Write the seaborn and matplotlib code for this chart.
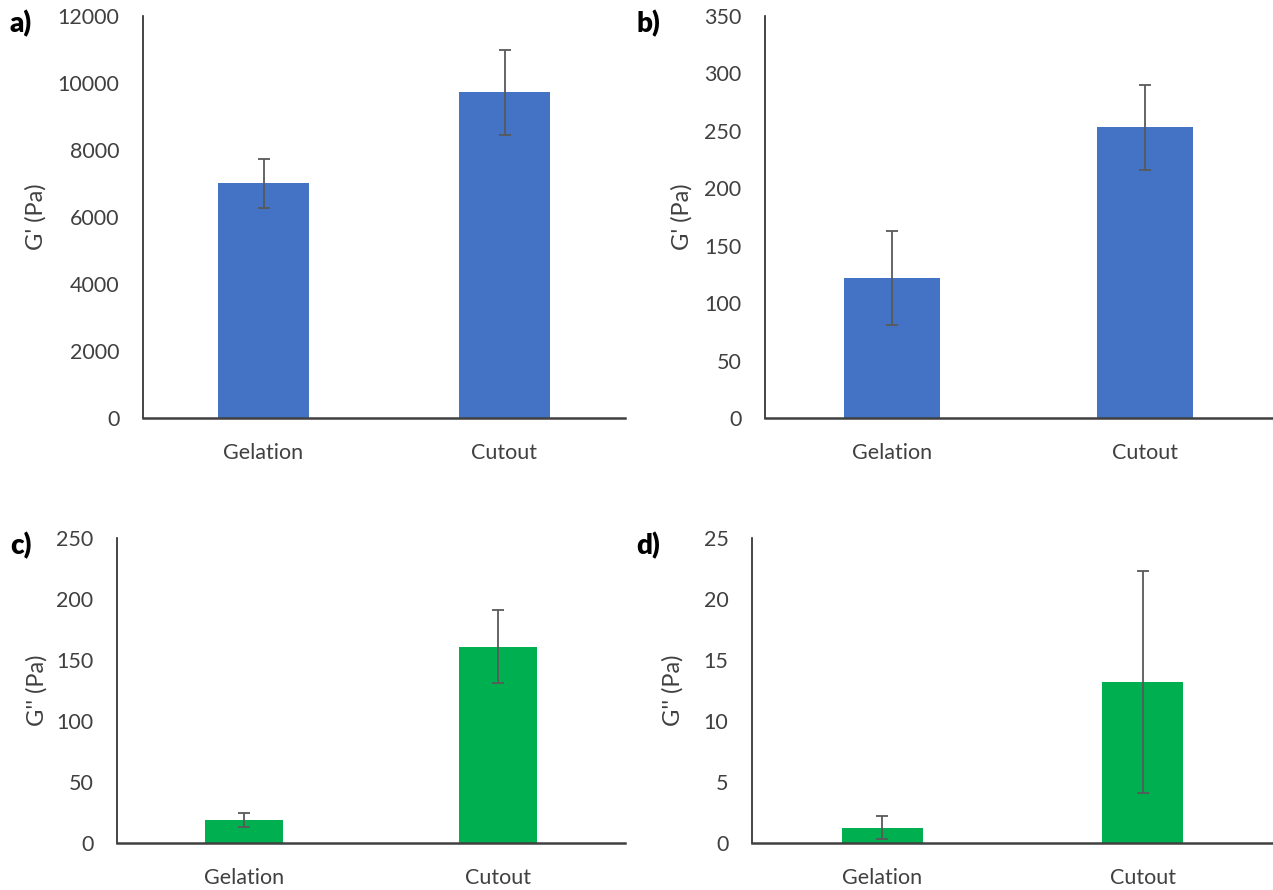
import matplotlib
matplotlib.use("Agg")
import matplotlib.pyplot as plt
import seaborn as sns
import pandas as pd

sns.set_theme(style="white")
plt.rcParams['font.family'] = ['Lato', 'DejaVu Sans']

categories = ["Gelation", "Cutout"]
a_vals = [7000, 9720]
a_err = [745, 1270]
b_vals = [122, 253]
b_err = [41, 37]
c_vals = [19, 161]
c_err = [6, 30]
d_vals = [1.25, 13.2]
d_err = [0.95, 9.1]

a_ticks = [0, 2000, 4000, 6000, 8000, 10000, 12000]
b_ticks = [0, 50, 100, 150, 200, 250, 300, 350]
c_ticks = [0, 50, 100, 150, 200, 250]
d_ticks = [0, 5, 10, 15, 20, 25]

BLUE = "#4472C4"
GREEN = "#00B050"
TXT = "#404040"

W, H = 1273, 890
fig = plt.figure(figsize=(W / 100, H / 100), dpi=100)


def px_axes(left, top, right, bottom):
    return fig.add_axes([left / W, 1 - bottom / H, (right - left) / W, (bottom - top) / H])


panels = [
    ((143, 16, 625, 418), a_vals, a_err, a_ticks, BLUE, 0.38, "G' (Pa)", "a)", (10, 24), 47),
    ((765, 16, 1272, 418), b_vals, b_err, b_ticks, BLUE, 0.38, "G' (Pa)", "b)", (636, 24), 693),
    ((117, 538, 625, 843), c_vals, c_err, c_ticks, GREEN, 0.31, "G'' (Pa)", "c)", (10, 546), 48),
    ((752, 538, 1273, 843), d_vals, d_err, d_ticks, GREEN, 0.31, "G'' (Pa)", "d)", (636, 546), 684),
]

for box, vals, errs, ticks, color, width, ylabel, letter, lpos, ylx in panels:
    ax = px_axes(*box)
    df = pd.DataFrame({"cat": categories, "val": vals})
    sns.barplot(data=df, x="cat", y="val", color=color, width=width,
                saturation=1, edgecolor="none", errorbar=None, ax=ax)
    ax.errorbar(categories, vals, yerr=errs, fmt="none", ecolor="#595959",
                elinewidth=1.3, capsize=4, capthick=1.3, zorder=5)
    ax.set_ylim(ticks[0], ticks[-1])
    ax.set_yticks(ticks)
    ax.set_yticklabels([str(t) for t in ticks])
    ax.set_xlim(-0.5, 1.5)
    ax.set_xlabel("")
    ax.set_ylabel(ylabel, fontsize=17, color=TXT)
    left, top, right, bottom = box
    ax.yaxis.set_label_coords((ylx - left) / (right - left), 0.5)
    ax.tick_params(axis="both", length=0, labelsize=15.5, colors=TXT)
    ax.tick_params(axis="y", pad=17)
    ax.tick_params(axis="x", pad=18)
    for s in ["top", "right"]:
        ax.spines[s].set_visible(False)
    ax.spines["left"].set_color("#262626")
    ax.spines["left"].set_linewidth(1.2)
    ax.spines["bottom"].set_color("#404040")
    ax.spines["bottom"].set_linewidth(1.8)
    ax.spines["bottom"].set_zorder(6)
    fig.text(lpos[0] / W, 1 - lpos[1] / H, letter, fontsize=20, fontweight="heavy",
             color="black", ha="left", va="center")

fig.savefig("out.png", dpi=100)
